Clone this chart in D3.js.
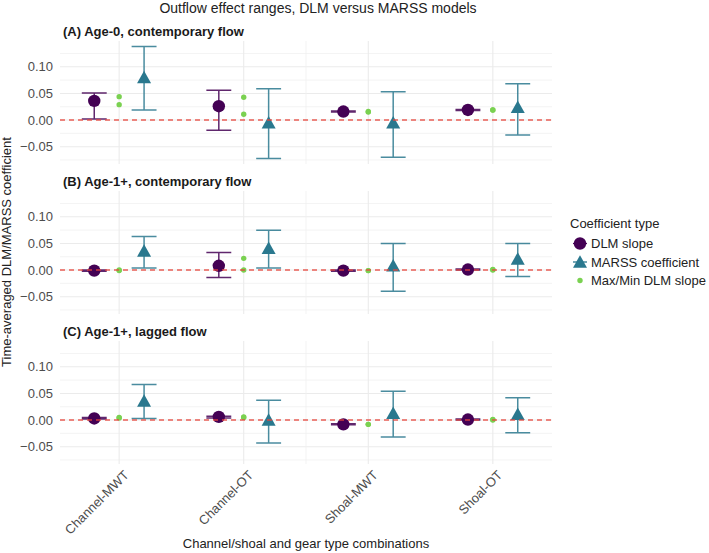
<!DOCTYPE html>
<html><head><meta charset="utf-8">
<script src="https://cdn.jsdelivr.net/npm/d3@7"></script>
<style>
body{margin:0;background:#fff;}
text{font-family:"Liberation Sans",Arial,sans-serif;}
</style></head>
<body><svg id="chart" width="709" height="553"></svg>
<script>
// ---------- data ----------
const categories = ["Channel-MWT","Channel-OT","Shoal-MWT","Shoal-OT"];
const panelTitles = ["(A) Age-0, contemporary flow","(B) Age-1+, contemporary flow","(C) Age-1+, lagged flow"];
const yTicks = [-0.05, 0.00, 0.05, 0.10];
const yMinorTicks = [-0.075, -0.025, 0.025, 0.075, 0.125];
const legendLabels = ["DLM slope","MARSS coefficient","Max/Min DLM slope"];

// DLM slope (time averaged) and its error bar range, per panel
const dlmSlope = [[0.036, 0.026, 0.016, 0.019],[-0.001, 0.008, -0.001, 0.001],[0.003, 0.006, -0.008, 0.001]];
const dlmLow   = [[0.002, -0.019, 0.015, 0.018],[-0.002, -0.014, -0.002, 0.000],[0.002, 0.004, -0.009, 0.000]];
const dlmHigh  = [[0.051, 0.056, 0.017, 0.020],[0.000, 0.033, 0.000, 0.002],[0.005, 0.007, -0.007, 0.002]];
// Max / Min DLM slope
const dlmMax = [[0.044, 0.043, 0.016, 0.019],[0.000, 0.022, -0.001, 0.001],[0.005, 0.006, -0.008, 0.001]];
const dlmMin = [[0.029, 0.011, 0.015, 0.019],[-0.001, 0.000, -0.001, 0.000],[0.004, 0.005, -0.008, 0.000]];
// MARSS coefficient and its error bar range
const marssCoef = [[0.080, -0.005, -0.005, 0.024],[0.036, 0.041, 0.008, 0.021],[0.036, 0.000, 0.013, 0.011]];
const marssLow  = [[0.019, -0.072, -0.070, -0.028],[0.004, 0.004, -0.040, -0.012],[0.003, -0.043, -0.032, -0.024]];
const marssHigh = [[0.138, 0.059, 0.053, 0.068],[0.063, 0.075, 0.050, 0.050],[0.067, 0.037, 0.054, 0.042]];

// ---------- styles ----------
const colDLM = "#440154", colMARSS = "#2A788E", colMax = "#7AD151";
const svg = d3.select("#chart");

const x = d3.scaleLinear().domain([0.525, 4.475]).range([60, 552]);
const dodge = 0.2, ebHalf = 0.1;
const allVals = [].concat(...dlmLow, ...dlmHigh, ...marssLow, ...marssHigh, ...dlmSlope, ...marssCoef, ...dlmMax, ...dlmMin);
const vmin = d3.min(allVals), vmax = d3.max(allVals), pad = (vmax - vmin) * 0.05;
const yDomain = [vmin - pad, vmax + pad];
const panelTop = [41, 191, 341], panelH = 123;

// title
svg.append("text").attr("x", 318).attr("y", 13).attr("text-anchor","middle")
  .attr("font-size", 14).attr("fill", "#222").text("Outflow effect ranges, DLM versus MARSS models");

const tri = (cx, cy) => {
  const w = 14, h = 12.5;
  return `M${cx},${cy - h/2 - 0.5}L${cx + w/2},${cy + h/2 - 0.5}L${cx - w/2},${cy + h/2 - 0.5}Z`;
};

panelTitles.forEach((title, p) => {
  const top = panelTop[p];
  const y = d3.scaleLinear().domain(yDomain).range([top + panelH, top]);
  const g = svg.append("g");
  // grid
  g.selectAll(".minor").data(yMinorTicks).join("line")
    .attr("x1", 60).attr("x2", 552).attr("y1", d => y(d)).attr("y2", d => y(d))
    .attr("stroke", "#ededed").attr("stroke-width", 0.6);
  g.selectAll(".major").data(yTicks).join("line")
    .attr("x1", 60).attr("x2", 552).attr("y1", d => y(d)).attr("y2", d => y(d))
    .attr("stroke", "#ebebeb").attr("stroke-width", 1.1);
  g.selectAll(".vgrid").data(categories).join("line")
    .attr("x1", (d,i) => x(i+1)).attr("x2", (d,i) => x(i+1))
    .attr("y1", top).attr("y2", top + panelH)
    .attr("stroke", "#ebebeb").attr("stroke-width", 1.1);
  g.append("line").attr("x1", x(2.5)).attr("x2", x(2.5)).attr("y1", top).attr("y2", top + panelH)
    .attr("stroke", "#f0f0f0").attr("stroke-width", 0.8);

  // y axis
  const ax = svg.append("g").attr("transform", `translate(60,0)`)
    .call(d3.axisLeft(y).tickValues(yTicks).tickSize(0).tickPadding(7)
      .tickFormat(d => d3.format(".2f")(d).replace("-", "\u2212")));
  ax.select(".domain").remove();
  ax.selectAll("text").attr("font-size", 13).attr("fill", "#4d4d4d")
    .attr("font-family", '"Liberation Sans",Arial,sans-serif');

  // strip title
  svg.append("text").attr("x", 63).attr("y", top - 5).attr("font-size", 13)
    .attr("font-weight", "bold").attr("fill", "#1a1a1a").text(title);

  const idx = categories.map((c, i) => i);
  // error bars
  const eb = (sel, xs, lo, hi, col) => {
    sel.selectAll(null).data(idx).join("path")
      .attr("d", i => {
        const cx = x(i + 1 + xs), l = x(i + 1 + xs - ebHalf), r = x(i + 1 + xs + ebHalf);
        return `M${l},${y(hi[i])}H${r}M${cx},${y(hi[i])}V${y(lo[i])}M${l},${y(lo[i])}H${r}`;
      })
      .attr("fill", "none").attr("stroke", col).attr("stroke-width", 1.5).attr("opacity", 0.85);
  };
  eb(g, -dodge, dlmLow[p], dlmHigh[p], colDLM);
  eb(g, dodge, marssLow[p], marssHigh[p], colMARSS);

  g.selectAll(null).data(idx).join("circle")
    .attr("cx", i => x(i + 1 - dodge)).attr("cy", i => y(dlmSlope[p][i])).attr("r", 6.2)
    .attr("fill", colDLM);
  g.selectAll(null).data(idx).join("path")
    .attr("d", i => tri(x(i + 1 + dodge), y(marssCoef[p][i]))).attr("fill", colMARSS);
  [dlmMax[p], dlmMin[p]].forEach(arr => {
    g.selectAll(null).data(idx).join("circle")
      .attr("cx", i => x(i + 1)).attr("cy", i => y(arr[i])).attr("r", 2.7).attr("fill", colMax);
  });

  // zero line
  g.append("line").attr("x1", 60).attr("x2", 552).attr("y1", y(0)).attr("y2", y(0))
    .attr("stroke", "#e8453c").attr("stroke-width", 1.4).attr("stroke-dasharray", "5,4").attr("opacity", 0.85);

  if (p === 2) {
    const xa = svg.append("g").attr("transform", `translate(0,${top + panelH + 4})`)
      .call(d3.axisBottom(x).tickValues([1,2,3,4]).tickSize(0).tickFormat(d => categories[d - 1]));
    xa.select(".domain").remove();
    xa.selectAll("text").attr("font-size", 13).attr("fill", "#4d4d4d")
      .attr("font-family", '"Liberation Sans",Arial,sans-serif')
      .attr("text-anchor", "end").attr("y", 0).attr("dy", "0.75em")
      .attr("transform", "translate(3,1) rotate(-45)");
  }
});

// axis titles
svg.append("text").attr("x", 306).attr("y", 548).attr("text-anchor", "middle")
  .attr("font-size", 13).attr("fill", "#222").text("Channel/shoal and gear type combinations");
svg.append("text").attr("transform", "translate(11,252) rotate(-90)").attr("text-anchor", "middle")
  .attr("font-size", 13).attr("fill", "#222").text("Time-averaged DLM/MARSS coefficient");

// legend
const lg = svg.append("g");
lg.append("text").attr("x", 570).attr("y", 228).attr("font-size", 13).attr("fill", "#222").text("Coefficient type");
const ly = [243.5, 262, 280.5];
lg.append("line").attr("x1", 573).attr("x2", 587).attr("y1", ly[0]).attr("y2", ly[0]).attr("stroke", colDLM).attr("stroke-width", 1.3);
lg.append("circle").attr("cx", 580).attr("cy", ly[0]).attr("r", 6.2).attr("fill", colDLM);
lg.append("line").attr("x1", 573).attr("x2", 587).attr("y1", ly[1]).attr("y2", ly[1]).attr("stroke", colMARSS).attr("stroke-width", 1.3);
lg.append("path").attr("d", tri(580, ly[1])).attr("fill", colMARSS);
lg.append("circle").attr("cx", 580).attr("cy", ly[2]).attr("r", 2.7).attr("fill", colMax);
lg.selectAll(null).data(legendLabels).join("text")
  .attr("x", 591).attr("y", (d, i) => ly[i]).attr("dy", "0.35em")
  .attr("font-size", 13).attr("fill", "#222").text(d => d);
</script></body></html>
